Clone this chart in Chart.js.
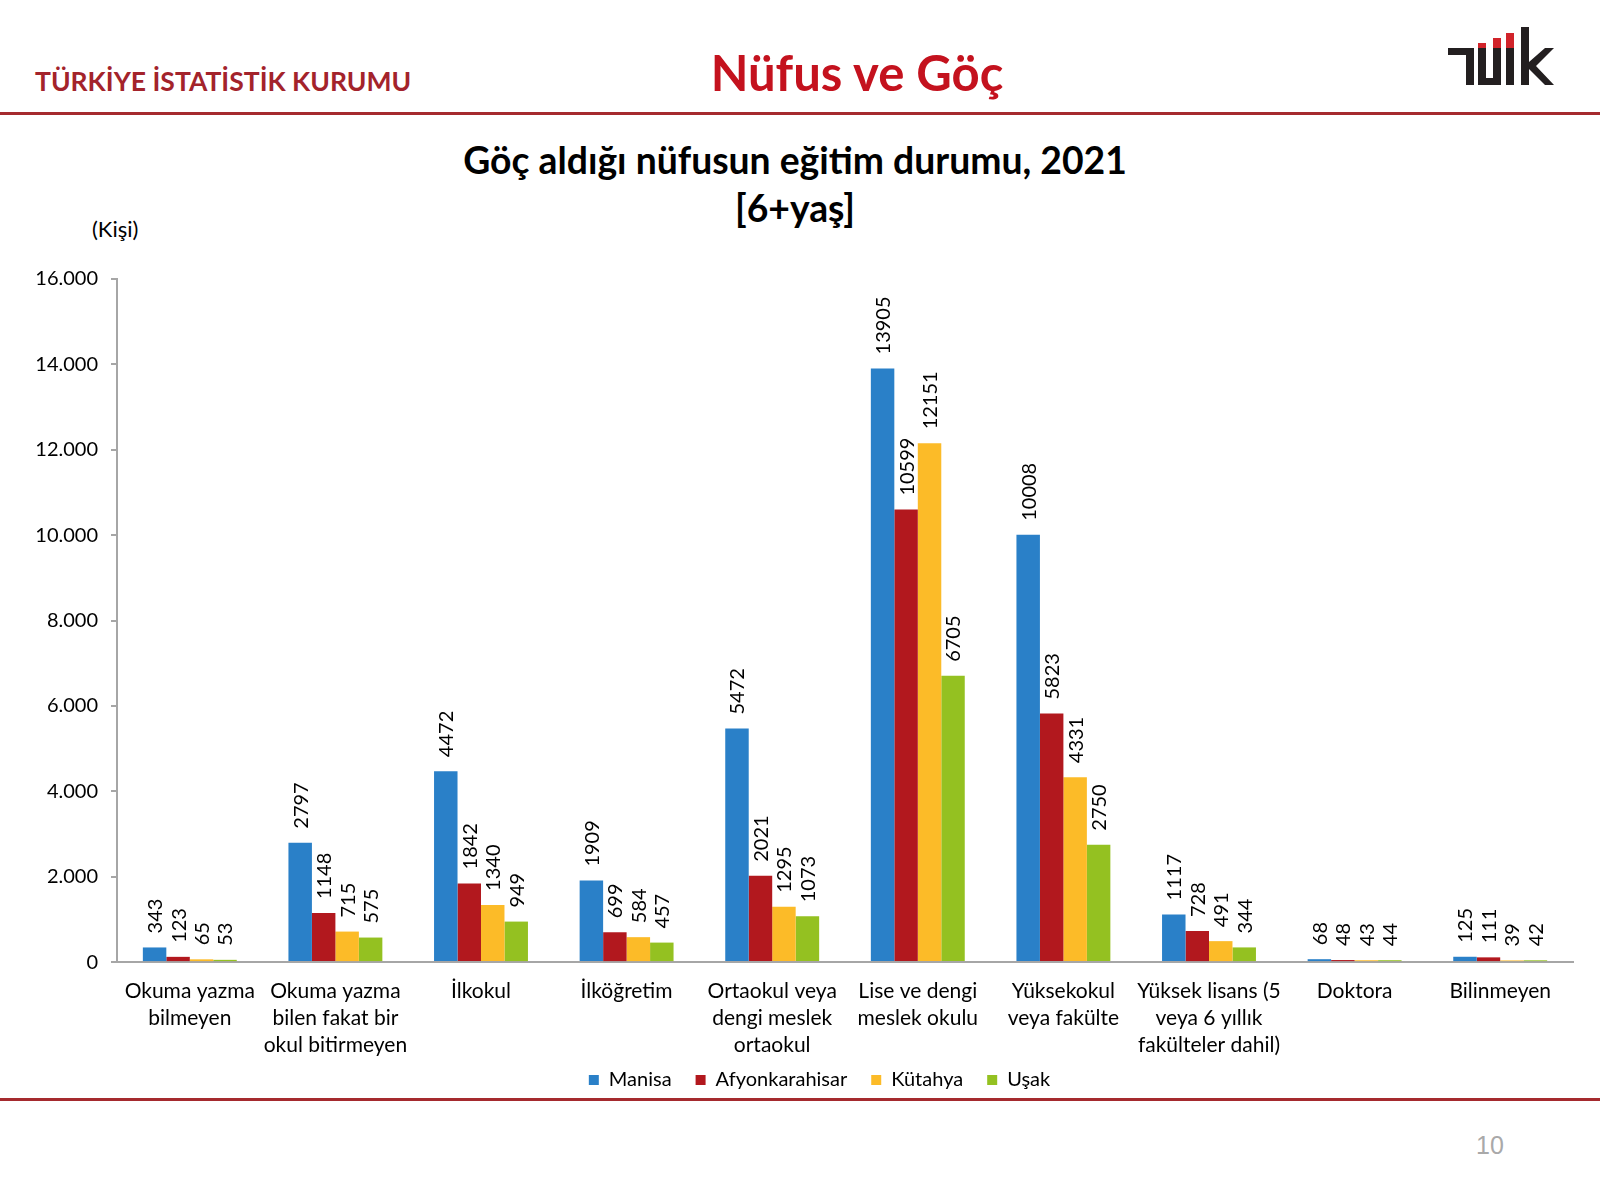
<!DOCTYPE html>
<html>
<head>
<meta charset="utf-8">
<script src="https://cdn.jsdelivr.net/npm/chart.js@4.4.0/dist/chart.umd.min.js"></script>
<style>
  html, body { margin: 0; padding: 0; background: #fff; }
  body { width: 1600px; height: 1200px; position: relative; overflow: hidden; font-family: Lato, sans-serif; }
  .abs { position: absolute; white-space: nowrap; }
  #org { left: 35px; top: 65px; font-size: 26.5px; font-weight: bold; color: #a3232b; }
  #pageTitle { left: 0; width: 1714px; text-align: center; top: 43px; font-size: 49px; font-weight: bold; color: #c4121e; }
  .rule { position: absolute; left: 0; width: 1600px; background: #a52a2e; }
  #chartTitle { left: 0; width: 1590px; top: 136px; text-align: center; font-size: 37.3px; font-weight: bold; color: #000; line-height: 48px; }
  #unit { left: 92px; top: 215px; font-size: 22px; color: #000; }
  #pageNo { left: 1476px; top: 1131px; font-family: "Liberation Sans", Arial, sans-serif; font-size: 25px; color: #a9a9a9; }
  #chartBox { position: absolute; left: 30px; top: 250px; width: 1570px; height: 878px; }
</style>
</head>
<body>
<div class="abs" id="org">TÜRKİYE İSTATİSTİK KURUMU</div>
<div class="abs" id="pageTitle">Nüfus ve Göç</div>
<svg class="abs" style="left:1440px;top:20px" width="120" height="70" viewBox="1440 20 120 70">
  <rect x="1448" y="48" width="26" height="7" fill="#231f20"/>
  <rect x="1466" y="48" width="8" height="37" fill="#231f20"/>
  <rect x="1478" y="48" width="8" height="37" fill="#231f20"/>
  <rect x="1478" y="43" width="8" height="5" fill="#d1232a"/>
  <rect x="1493" y="48" width="8" height="37" fill="#231f20"/>
  <rect x="1493" y="38" width="8" height="10" fill="#d1232a"/>
  <rect x="1478" y="78" width="23" height="7" fill="#231f20"/>
  <rect x="1506" y="48" width="8" height="37" fill="#231f20"/>
  <rect x="1506" y="33" width="8" height="15" fill="#d1232a"/>
  <rect x="1521" y="27" width="8" height="58" fill="#231f20"/>
  <polygon points="1529,62 1545,48 1554,48 1536,66 1554,85 1545,85 1529,69" fill="#231f20"/>
</svg>
<div class="rule" style="top:112px;height:3px"></div>
<div class="abs" id="chartTitle">Göç aldığı nüfusun eğitim durumu, 2021<br>[6+yaş]</div>
<div class="abs" id="unit">(Kişi)</div>
<div id="chartBox"><canvas id="eduChart"></canvas></div>
<div class="rule" style="top:1098px;height:3px"></div>
<div class="abs" id="pageNo">10</div>

<script>
const categories = [
  ['Okuma yazma', 'bilmeyen'],
  ['Okuma yazma', 'bilen fakat bir', 'okul bitirmeyen'],
  ['İlkokul'],
  ['İlköğretim'],
  ['Ortaokul veya', 'dengi meslek', 'ortaokul'],
  ['Lise ve dengi', 'meslek okulu'],
  ['Yüksekokul', 'veya fakülte'],
  ['Yüksek lisans (5', 'veya 6 yıllık', 'fakülteler dahil)'],
  ['Doktora'],
  ['Bilinmeyen']
];

const manisa = [343, 2797, 4472, 1909, 5472, 13905, 10008, 1117, 68, 125];
const afyonkarahisar = [123, 1148, 1842, 699, 2021, 10599, 5823, 728, 48, 111];
const kutahya = [65, 715, 1340, 584, 1295, 12151, 4331, 491, 43, 39];
const usak = [53, 575, 949, 457, 1073, 6705, 2750, 344, 44, 42];

const seriesNames = ['Manisa', 'Afyonkarahisar', 'Kütahya', 'Uşak'];
const seriesColors = ['#2a80c8', '#b2181e', '#fcbb28', '#94c121'];
const yTicks = [0, 2000, 4000, 6000, 8000, 10000, 12000, 14000, 16000];

const fontFamily = 'Lato, sans-serif';

// vertical value labels above each bar
const barValueLabels = {
  id: 'barValueLabels',
  afterDatasetsDraw(chart) {
    const ctx = chart.ctx;
    ctx.save();
    ctx.font = `20px ${fontFamily}`;
    ctx.fillStyle = '#000';
    ctx.textAlign = 'left';
    ctx.textBaseline = 'middle';
    chart.data.datasets.forEach((ds, i) => {
      chart.getDatasetMeta(i).data.forEach((bar, j) => {
        ctx.save();
        ctx.translate(bar.x, bar.y - 14);
        ctx.rotate(-Math.PI / 2);
        ctx.fillText(String(ds.data[j]), 0, 1);
        ctx.restore();
      });
    });
    ctx.restore();
  }
};

// the legend sits a little closer to the axis labels and right of centre
const legendShift = {
  id: 'legendShift',
  afterLayout(chart) {
    const lg = chart.legend;
    lg.left += 18;
    lg.right += 18;
    lg.top -= 28;
    lg.bottom -= 28;
  }
};

const seriesData = [manisa, afyonkarahisar, kutahya, usak];

new Chart(document.getElementById('eduChart'), {
  type: 'bar',
  data: {
    labels: categories,
    datasets: seriesNames.map((name, i) => ({
      label: name,
      data: seriesData[i],
      backgroundColor: seriesColors[i],
      borderWidth: 0,
      categoryPercentage: 0.645,
      barPercentage: 1
    }))
  },
  options: {
    responsive: true,
    maintainAspectRatio: false,
    animation: false,
    layout: { padding: { top: 29, right: 27, left: 0, bottom: 0 } },
    plugins: {
      legend: {
        position: 'bottom',
        labels: {
          boxWidth: 10,
          boxHeight: 10,
          padding: 24,
          color: '#000',
          font: { family: fontFamily, size: 20 }
        }
      },
      tooltip: { enabled: false }
    },
    scales: {
      x: {
        grid: { display: false, drawTicks: false },
        border: { color: '#a6a6a6', width: 2 },
        ticks: {
          color: '#000',
          maxRotation: 0,
          autoSkip: false,
          padding: 15,
          font: { family: fontFamily, size: 21, lineHeight: 1.3 }
        }
      },
      y: {
        min: 0,
        max: 16000,
        afterFit(scale) { scale.width = 87; },
        afterBuildTicks(scale) { scale.ticks = yTicks.map(v => ({ value: v })); },
        grid: { drawOnChartArea: false, drawTicks: true, tickLength: 6, color: '#a6a6a6', lineWidth: 2 },
        border: { color: '#a6a6a6', width: 2 },
        ticks: {
          color: '#000',
          padding: 13,
          font: { family: fontFamily, size: 20 },
          callback: v => v.toLocaleString('de-DE')
        }
      }
    }
  },
  plugins: [barValueLabels, legendShift]
});
</script>
</body>
</html>
